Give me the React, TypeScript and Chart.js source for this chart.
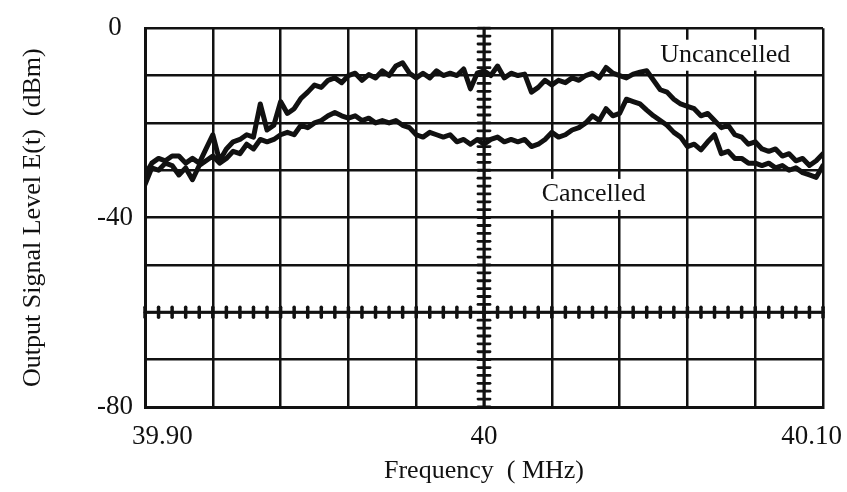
import React, { useEffect, useRef } from "react";
import { Chart, registerables } from "chart.js";

Chart.register(...registerables);

// Spectrum-analyser sweep: 39.90 .. 40.10 MHz in 2 kHz steps
const SWEEP_START_MHZ = 39.9;
const SWEEP_STEP_MHZ = 0.002;

// Output level without cancellation (dBm)
const uncancelledDbm = [
  -31, -28.5, -27.5, -28, -27, -27, -28.5, -27.5, -28.5, -25.5,
  -22.5, -28, -25.5, -24, -23.5, -22.5, -23, -16, -21.5, -20.5,
  -15.5, -18, -17, -14.8, -13.5, -12, -12.5, -11, -10.5, -11.5,
  -10, -9.5, -11, -9.8, -10.5, -9, -10, -8, -7.3, -9.5,
  -10.5, -9.5, -10.5, -9, -10, -9.5, -10, -8.6, -12.8, -9.5,
  -9, -10, -8, -10.5, -9.5, -10, -9.7, -13.5, -12.5, -11,
  -12, -11, -11.5, -10.5, -11, -10, -9.5, -10.5, -8.3, -9.5,
  -10, -10.5, -9.7, -9.3, -9, -11, -13, -13.5, -15, -16,
  -16.5, -17, -18.5, -18, -19.5, -21, -20.5, -22.5, -23, -24.5,
  -24, -25.5, -26, -25.5, -27, -26.5, -28, -27.5, -29, -28,
  -26.5,
];

// Output level with cancellation (dBm)
const cancelledDbm = [
  -33, -29.5, -30, -28.5, -29, -31, -29.5, -32, -29, -28,
  -27, -28.5, -27.5, -26, -26.5, -24.5, -25.5, -23.5, -24, -23.5,
  -22.5, -22, -22.5, -20.5, -21, -20, -19.5, -18.5, -17.8, -18.5,
  -19, -18.5, -19.5, -19, -20, -19.5, -20, -19.5, -20.5, -21,
  -22.5, -23, -22, -22.5, -23, -22.5, -24, -23.5, -24.5, -23.5,
  -24.5, -23.5, -23, -24, -23.5, -24, -23.5, -25, -24.5, -23.5,
  -22, -23, -22.5, -21.5, -21, -20, -18.5, -19.5, -17, -18.5,
  -18, -15, -15.5, -16, -17.3, -18.5, -19.5, -20.5, -22, -23,
  -25, -24.5, -25.7, -24, -22.5, -26.5, -26, -27.5, -27.5, -28.5,
  -28.5, -29, -28.5, -29.5, -29, -30, -29.5, -30.5, -31, -31.5,
  -29,
];

const freqMHz = uncancelledDbm.map((_, i) =>
  Number((SWEEP_START_MHZ + i * SWEEP_STEP_MHZ).toFixed(3))
);

// Graticule
const xGridMHz = [39.9, 39.92, 39.94, 39.96, 39.98, 40.0, 40.02, 40.04, 40.06, 40.08, 40.1];
const yGridDbm = [0, -10, -20, -30, -40, -50, -60, -70, -80];
const yLabelledDbm = [0, -40, -80];
const xTickLabels = ["39.90", "40", "40.10"];
const xTickValues = [39.9, 40.0, 40.1];
const CENTER_FREQ = 40.0;
const CENTER_LEVEL = -60;

// Trace annotations: text, left edge (MHz), vertical centre (dBm)
const traceNames = ["Uncancelled", "Cancelled"];
const traceNameFreq = [40.052, 40.017];
const traceNameLevel = [-5.6, -35];

const INK = "#111111";
const SERIF = "'Liberation Serif', 'Times New Roman', serif";

const scopeOverlay = {
  id: "scopeOverlay",
  beforeDatasetsDraw(chart: any) {
    const { ctx } = chart;
    const x = chart.scales.x;
    const y = chart.scales.y;
    ctx.save();
    ctx.strokeStyle = INK;
    ctx.lineCap = "round";

    // minor ticks along the centre vertical graticule line
    const cx = x.getPixelForValue(CENTER_FREQ);
    ctx.lineWidth = 2.8;
    for (let k = 0; k <= 48; k++) {
      const py = y.getPixelForValue(-k * (10 / 6));
      ctx.beginPath();
      ctx.moveTo(cx - 6, py);
      ctx.lineTo(cx + 6, py);
      ctx.stroke();
    }
    ctx.lineWidth = 3;
    ctx.beginPath();
    ctx.moveTo(cx, y.top);
    ctx.lineTo(cx, y.bottom);
    ctx.stroke();

    // minor ticks along the centre horizontal graticule line
    const cy = y.getPixelForValue(CENTER_LEVEL);
    ctx.lineWidth = 3.5;
    for (let k = 0; k <= 50; k++) {
      const px = x.getPixelForValue(SWEEP_START_MHZ + k * 0.004);
      ctx.beginPath();
      ctx.moveTo(px, cy - 5);
      ctx.lineTo(px, cy + 5);
      ctx.stroke();
    }
    ctx.lineWidth = 3;
    ctx.beginPath();
    ctx.moveTo(x.left, cy);
    ctx.lineTo(x.right, cy);
    ctx.stroke();

    // trace names on white boxes
    ctx.font = `26px ${SERIF}`;
    ctx.textBaseline = "middle";
    ctx.textAlign = "left";
    traceNames.forEach((name, i) => {
      const px = x.getPixelForValue(traceNameFreq[i]);
      const py = y.getPixelForValue(traceNameLevel[i]);
      const w = ctx.measureText(name).width;
      ctx.fillStyle = "#ffffff";
      ctx.fillRect(px - 4, py - 15, w + 8, 31);
      ctx.fillStyle = INK;
      ctx.fillText(name, px, py);
    });
    ctx.restore();
  },
  afterDraw(chart: any) {
    const { ctx } = chart;
    const x = chart.scales.x;
    ctx.save();
    ctx.font = `27px ${SERIF}`;
    ctx.fillStyle = INK;
    ctx.textBaseline = "middle";
    const ty = x.top + 30;
    xTickLabels.forEach((label, i) => {
      const px = x.getPixelForValue(xTickValues[i]);
      if (i === 0) {
        ctx.textAlign = "left";
        ctx.fillText(label, px - 13, ty);
      } else if (i === xTickLabels.length - 1) {
        ctx.textAlign = "right";
        ctx.fillText(label, px + 19, ty);
      } else {
        ctx.textAlign = "center";
        ctx.fillText(label, px, ty);
      }
    });
    ctx.restore();
  },
};

export default function App() {
  const canvasRef = useRef<HTMLCanvasElement | null>(null);

  useEffect(() => {
    const canvas = canvasRef.current;
    if (!canvas) return;
    const trace = (values: number[], label: string) => ({
      label,
      data: freqMHz.map((f, i) => ({ x: f, y: values[i] })),
      borderColor: INK,
      borderWidth: 5,
      borderJoinStyle: "round",
      borderCapStyle: "round",
      pointRadius: 0,
      tension: 0,
      fill: false,
    });
    const chart = new Chart(canvas, {
      type: "line",
      data: {
        datasets: [
          trace(uncancelledDbm, "Uncancelled"),
          trace(cancelledDbm, "Cancelled"),
        ],
      },
      options: {
        responsive: false,
        animation: false,
        devicePixelRatio: 1,
        layout: { padding: { top: 18, right: 24, left: 0, bottom: 0 } },
        plugins: { legend: { display: false }, tooltip: { enabled: false } },
        scales: {
          x: {
            type: "linear",
            min: 39.9,
            max: 40.1,
            afterBuildTicks: (s: any) => {
              s.ticks = xGridMHz.map((v) => ({ value: v }));
            },
            afterFit: (s: any) => {
              s.height = 85;
            },
            ticks: { display: false },
            grid: { color: INK, lineWidth: 2.5, drawTicks: false },
            border: { color: INK, width: 3 },
            title: {
              display: true,
              text: "Frequency  ( MHz)",
              color: INK,
              font: { family: SERIF, size: 26 },
              padding: { top: 0, bottom: 5 },
            },
          },
          y: {
            type: "linear",
            min: -80,
            max: 0,
            afterBuildTicks: (s: any) => {
              s.ticks = yGridDbm.map((v) => ({ value: v }));
            },
            afterFit: (s: any) => {
              s.width = 145;
            },
            ticks: {
              autoSkip: false,
              crossAlign: "center",
              padding: 12,
              color: INK,
              font: { family: SERIF, size: 27 },
              callback: (v: any) => (yLabelledDbm.includes(Number(v)) ? String(v) : ""),
            },
            grid: { color: INK, lineWidth: 2.5, drawTicks: false },
            border: { color: INK, width: 3 },
            title: {
              display: true,
              text: "Output Signal Level E(t)  (dBm)",
              color: INK,
              font: { family: SERIF, size: 26 },
              padding: { top: 18, bottom: 0 },
            },
          },
        },
      },
      plugins: [scopeOverlay],
    } as any);
    return () => chart.destroy();
  }, []);

  return (
    <div
      style={{
        position: "fixed",
        left: 0,
        top: 0,
        width: 847,
        height: 492,
        background: "#ffffff",
      }}
    >
      <canvas ref={canvasRef} width={847} height={492} />
    </div>
  );
}
